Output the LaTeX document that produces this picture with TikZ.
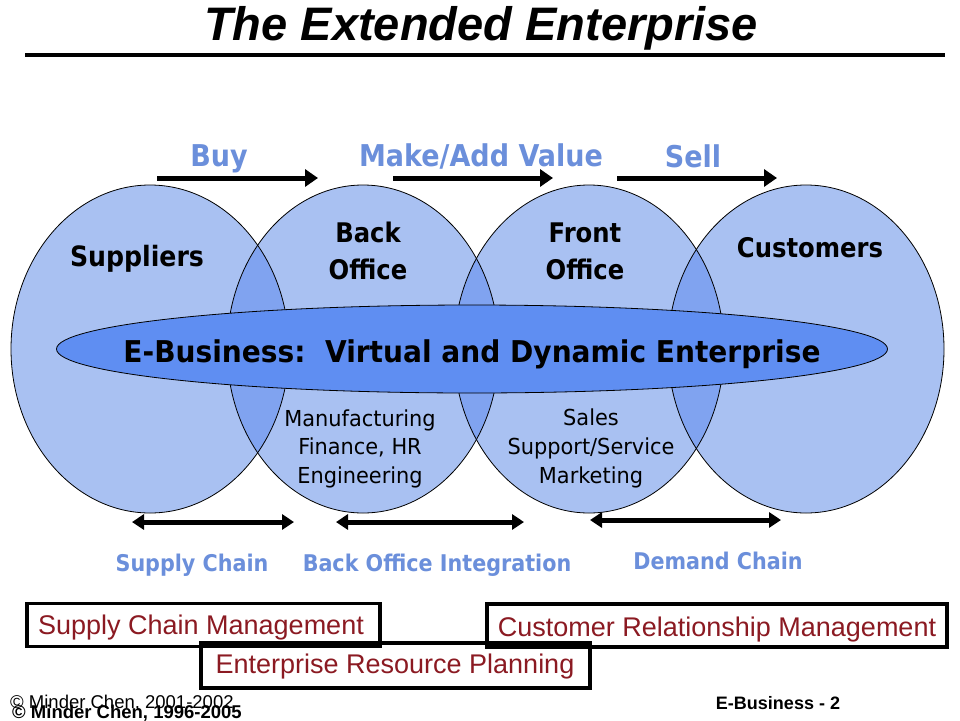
\documentclass[tikz,border=0pt]{standalone}
\usepackage{fontspec}
\setmainfont{DejaVu Sans}
\newfontfamily\titlefont{Liberation Sans}
\newfontfamily\redfont{Liberation Sans}
\newfontfamily\bodyfont[FakeStretch=0.9]{DejaVu Sans}
\newfontfamily\cellfont[FakeStretch=0.95]{DejaVu Sans}
\newfontfamily\midfont[FakeStretch=0.935]{DejaVu Sans}
\newfontfamily\footfont{Liberation Sans}
\usetikzlibrary{arrows.meta,shapes.geometric}
\definecolor{lightc}{HTML}{A9C1F2}
\definecolor{lensc}{HTML}{80A3F0}
\definecolor{centerc}{HTML}{5F8EF2}
\definecolor{bluetext}{HTML}{6B8FDB}
\definecolor{redtext}{HTML}{8B1A22}
\tikzset{
  fatarrow/.style={line width=5pt, -{Triangle[length=13pt,width=17pt]}},
  dblarrow/.style={line width=5pt, {Triangle[length=12pt,width=15pt]}-{Triangle[length=12pt,width=15pt]}},
  redbox/.style={draw=black, line width=3.5pt, rectangle, inner sep=0pt},
  tx/.style={anchor=base, inner sep=0pt, align=center},
  cellline/.style={draw=black, line width=0.8pt},
}
\begin{document}
\begin{tikzpicture}[x=1pt,y=-1pt]
\useasboundingbox (0,0) rectangle (960,720);
\fill[white] (0,0) rectangle (960,720);

% title
\node[tx] (title) at (481,40) {\titlefont\bfseries\itshape\fontsize{47}{50}\selectfont The Extended Enterprise};
\coordinate (r1) at (25,55);
\coordinate (r2) at (945,55);
\draw[line width=4.5pt] (r1) -- (r2);

% top labels and arrows
\node[tx, text=bluetext] (buy) at (219,166) {\bodyfont\bfseries\fontsize{30}{32}\selectfont Buy};
\node[tx, text=bluetext] (make) at (481,166) {\bodyfont\bfseries\fontsize{30}{32}\selectfont Make/Add Value};
\node[tx, text=bluetext] (sell) at (693,167) {\bodyfont\bfseries\fontsize{30}{32}\selectfont Sell};
\coordinate (a1s) at (157,178); \coordinate (a1e) at (318,178);
\coordinate (a2s) at (393,178); \coordinate (a2e) at (553,178);
\coordinate (a3s) at (617,178); \coordinate (a3e) at (777,178);
\draw[fatarrow] (a1s) -- (a1e);
\draw[fatarrow] (a2s) -- (a2e);
\draw[fatarrow] (a3s) -- (a3e);

% ellipses
\fill[lightc] (150,349) ellipse [x radius=139, y radius=164];
\fill[lightc] (363,349) ellipse [x radius=136, y radius=164];
\fill[lightc] (589,349) ellipse [x radius=135, y radius=164];
\fill[lightc] (806,349) ellipse [x radius=138, y radius=164];
\begin{scope}
\clip (150,349) ellipse [x radius=139, y radius=164];
\fill[lensc] (363,349) ellipse [x radius=136, y radius=164];
\end{scope}
\begin{scope}
\clip (363,349) ellipse [x radius=136, y radius=164];
\fill[lensc] (589,349) ellipse [x radius=135, y radius=164];
\end{scope}
\begin{scope}
\clip (589,349) ellipse [x radius=135, y radius=164];
\fill[lensc] (806,349) ellipse [x radius=138, y radius=164];
\end{scope}
\draw[cellline] (150,349) ellipse [x radius=139, y radius=164];
\draw[cellline] (363,349) ellipse [x radius=136, y radius=164];
\draw[cellline] (589,349) ellipse [x radius=135, y radius=164];
\draw[cellline] (806,349) ellipse [x radius=138, y radius=164];

% ellipse labels
\node[tx] (sup) at (137,266) {\bodyfont\bfseries\fontsize{28}{30}\selectfont Suppliers};
\node[tx] (back) at (368,242) {\bodyfont\bfseries\fontsize{27}{30}\selectfont Back};
\node[tx] (backo) at (368,279) {\bodyfont\bfseries\fontsize{27}{30}\selectfont Office};
\node[tx] (front) at (585,242) {\bodyfont\bfseries\fontsize{27}{30}\selectfont Front};
\node[tx] (fronto) at (585,279) {\bodyfont\bfseries\fontsize{27}{30}\selectfont Office};
\node[tx] (cust) at (810,257) {\bodyfont\bfseries\fontsize{27}{30}\selectfont Customers};

\node[tx] (m1) at (360,426) {\cellfont\fontsize{22}{24}\selectfont Manufacturing};
\node[tx] (m2) at (360,454.5) {\cellfont\fontsize{22}{24}\selectfont Finance, HR};
\node[tx] (m3) at (360,483) {\cellfont\fontsize{22}{24}\selectfont Engineering};
\node[tx] (s1) at (591,425) {\cellfont\fontsize{22}{24}\selectfont Sales};
\node[tx] (s2) at (591,454) {\cellfont\fontsize{22}{24}\selectfont Support/Service};
\node[tx] (s3) at (591,483) {\cellfont\fontsize{22}{24}\selectfont Marketing};

% central ellipse
\node[draw=black, line width=0.8pt, fill=centerc, ellipse, minimum width=831pt, minimum height=88pt, inner sep=0pt] (ebiz) at (472,349) {};
\node[tx] (ebizt) at (472,362) {\midfont\bfseries\fontsize{30}{34}\selectfont E-Business:\ \ Virtual and Dynamic Enterprise};

% bottom double arrows
\coordinate (d1s) at (132,522); \coordinate (d1e) at (294,522);
\coordinate (d2s) at (336,522); \coordinate (d2e) at (524,522);
\coordinate (d3s) at (590,520); \coordinate (d3e) at (781,520);
\draw[dblarrow] (d1s) -- (d1e);
\draw[dblarrow] (d2s) -- (d2e);
\draw[dblarrow] (d3s) -- (d3e);
\node[tx, text=bluetext] (sc) at (192,571) {\bodyfont\bfseries\fontsize{23}{26}\selectfont Supply Chain};
\node[tx, text=bluetext] (boi) at (437,571) {\bodyfont\bfseries\fontsize{23}{26}\selectfont Back Office Integration};
\node[tx, text=bluetext] (dc) at (718,569) {\bodyfont\bfseries\fontsize{23}{26}\selectfont Demand Chain};

% boxes
\node[redbox, minimum width=353pt, minimum height=43pt] (scmbox) at (203.5,625) {};
\node[redbox, minimum width=460pt, minimum height=43pt] (crmbox) at (717,625.5) {};
\node[redbox, minimum width=389pt, minimum height=45pt] (erpbox) at (395.5,665.5) {};
\node[tx, text=redtext] (scm) at (201,634) {\redfont\fontsize{27}{30}\selectfont Supply Chain Management};
\node[tx, text=redtext] (crm) at (717,636) {\redfont\fontsize{27}{30}\selectfont Customer Relationship Management};
\node[tx, text=redtext] (erp) at (395,673) {\redfont\fontsize{27}{30}\selectfont Enterprise Resource Planning};

% footer
\node[tx, anchor=base west] (c1) at (10,708) {\footfont\fontsize{18.5}{19}\selectfont \textcopyright\ Minder Chen, 2001-2002};
\node[tx, anchor=base west] (c2) at (12,718) {\footfont\bfseries\fontsize{18.5}{19}\selectfont \textcopyright\ Minder Chen, 1996-2005};
\node[tx] (pg) at (778,709) {\footfont\bfseries\fontsize{18}{19}\selectfont E-Business - 2};
\end{tikzpicture}
\end{document}
